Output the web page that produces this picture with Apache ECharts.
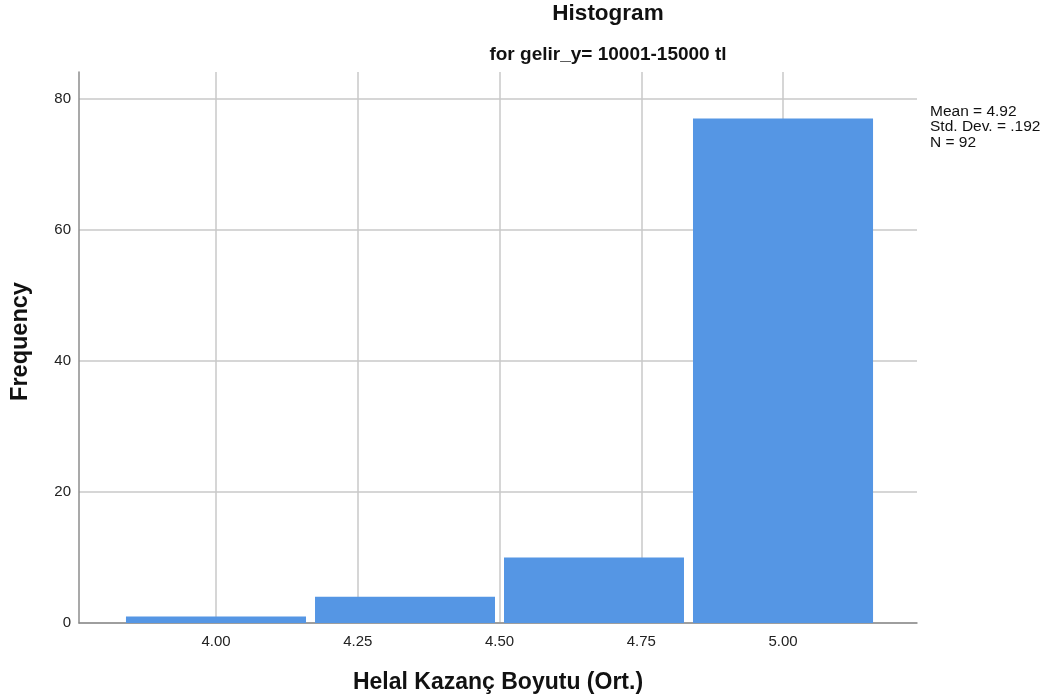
<!DOCTYPE html>
<html><head><meta charset="utf-8">
<script src="https://cdn.jsdelivr.net/npm/echarts@6/dist/echarts.min.js"></script>
<style>html,body{margin:0;padding:0;background:#fff}#c{width:1053px;height:700px}</style>
</head><body><div id="c"></div>
<script>
var binStarts = [3.8333, 4.1667, 4.5, 4.8333];
var binEnds = [4.1667, 4.5, 4.8333, 5.1667];
var frequencies = [1, 4, 10, 77];
var xTicks = [4.00, 4.25, 4.50, 4.75, 5.00];
var yTicks = [0, 20, 40, 60, 80];
var statsLines = ['Mean = 4.92', 'Std. Dev. = .192', 'N = 92'];

var data = binStarts.map(function (s, i) { return [s, binEnds[i], frequencies[i]]; });
var chart = echarts.init(document.getElementById('c'));
var FONT = '"Liberation Sans", Arial, sans-serif';
var graphics = [
  { type: 'text', x: 608, y: 14, style: { text: 'Histogram', font: 'bold 22.5px ' + FONT, fill: '#111', textAlign: 'center', textVerticalAlign: 'middle' } },
  { type: 'text', x: 608, y: 55, style: { text: 'for gelir_y= 10001-15000 tl', font: 'bold 19px ' + FONT, fill: '#111', textAlign: 'center', textVerticalAlign: 'middle' } }
];
statsLines.forEach(function (t, i) {
  graphics.push({ type: 'text', x: 930, y: 111.5 + i * 15.5, style: { text: t, font: '15.5px ' + FONT, fill: '#111', textAlign: 'left', textVerticalAlign: 'middle' } });
});
chart.setOption({
  animation: false,
  grid: { left: 79, right: 136, top: 72, bottom: 77 },
  xAxis: {
    type: 'value', min: 3.7584, max: 5.2363,
    axisLine: { show: true, onZero: false, lineStyle: { color: '#8c8c8c', width: 1.5 } },
    axisTick: { show: false, customValues: xTicks },
    axisLabel: { customValues: xTicks, color: '#222', fontFamily: FONT, fontSize: 15, margin: 11,
      formatter: function (v) { return v.toFixed(2); } },
    splitLine: { show: true, lineStyle: { color: '#c8c8c8', width: 1.5 } },
    name: 'Helal Kazanç Boyutu (Ort.)', nameLocation: 'middle', nameGap: 48,
    nameTextStyle: { fontFamily: FONT, fontSize: 23, fontWeight: 'bold', color: '#111' }
  },
  yAxis: {
    type: 'value', min: 0, max: 84.1,
    axisLine: { show: true, lineStyle: { color: '#8c8c8c', width: 1.5 } },
    axisTick: { show: false, customValues: yTicks },
    axisLabel: { customValues: yTicks, color: '#222', fontFamily: FONT, fontSize: 15, margin: 8 },
    splitLine: { show: true, lineStyle: { color: '#c8c8c8', width: 1.5 } },
    name: 'Frequency', nameLocation: 'middle', nameGap: 46, nameRotate: 90,
    nameTextStyle: { fontFamily: FONT, fontSize: 23.5, fontWeight: 'bold', color: '#111', padding: [0, 0, 0, 12] }
  },
  graphic: graphics,
  series: [{
    type: 'custom',
    data: data,
    encode: { x: [0, 1], y: 2 },
    renderItem: function (params, api) {
      var p0 = api.coord([api.value(0), api.value(2)]);
      var p1 = api.coord([api.value(1), 0]);
      var gap = 4.5;
      return {
        type: 'rect',
        shape: { x: p0[0] + gap, y: p0[1], width: p1[0] - p0[0] - 2 * gap, height: p1[1] - p0[1] },
        style: { fill: '#5596e4' }
      };
    }
  }]
});
</script></body></html>
